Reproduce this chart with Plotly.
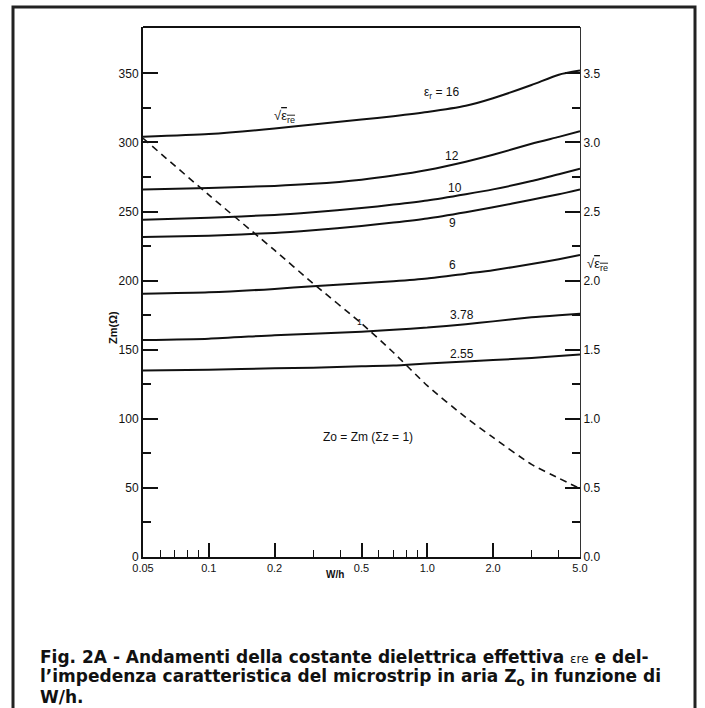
import math
import plotly.graph_objects as go

# ---- data ----
wh = [0.05, 0.1, 0.2, 0.3, 0.5, 0.7, 1.0, 1.5, 2.0, 3.0, 4.0, 5.0]

sqrt_ere_16 = [3.04, 3.06, 3.10, 3.13, 3.165, 3.19, 3.22, 3.265, 3.32, 3.415, 3.49, 3.52]
sqrt_ere_12 = [2.66, 2.67, 2.685, 2.70, 2.73, 2.76, 2.80, 2.86, 2.91, 2.99, 3.04, 3.08]
sqrt_ere_10 = [2.44, 2.455, 2.475, 2.495, 2.525, 2.55, 2.58, 2.625, 2.66, 2.72, 2.77, 2.81]
sqrt_ere_9 = [2.315, 2.325, 2.345, 2.365, 2.395, 2.42, 2.45, 2.495, 2.53, 2.585, 2.625, 2.66]
sqrt_ere_6 = [1.905, 1.915, 1.94, 1.96, 1.98, 1.995, 2.015, 2.05, 2.075, 2.12, 2.155, 2.185]
sqrt_ere_378 = [1.57, 1.58, 1.605, 1.615, 1.63, 1.645, 1.66, 1.685, 1.705, 1.735, 1.75, 1.76]
sqrt_ere_255 = [1.35, 1.355, 1.365, 1.37, 1.38, 1.385, 1.40, 1.415, 1.425, 1.44, 1.455, 1.465]

zm_air = [303, 262, 222, 198, 169, 148, 124, 101, 86.5, 67, 57, 49.5]

x_tickvals = [0.05, 0.1, 0.2, 0.5, 1.0, 2.0, 5.0]
x_ticktext = ["0.05", "0.1", "0.2", "0.5", "1.0", "2.0", "5.0"]
x_minor = [0.06, 0.07, 0.08, 0.09, 0.3, 0.4, 0.6, 0.7, 0.8, 0.9, 3.0, 4.0]

y_tickvals = [0, 50, 100, 150, 200, 250, 300, 350]
y_minor = [25, 75, 125, 175, 225, 275, 325]
y2_tickvals = [0.0, 0.5, 1.0, 1.5, 2.0, 2.5, 3.0, 3.5]
y2_minor = [0.25, 0.75, 1.25, 1.75, 2.25, 2.75, 3.25]

curves = [
    (sqrt_ere_16, "ε<sub>r</sub> = 16", 1.17, 3.36),
    (sqrt_ere_12, "12", 1.30, 2.90),
    (sqrt_ere_10, "10", 1.34, 2.67),
    (sqrt_ere_9, "9", 1.30, 2.42),
    (sqrt_ere_6, "6", 1.30, 2.11),
    (sqrt_ere_378, "3.78", 1.44, 1.75),
    (sqrt_ere_255, "2.55", 1.44, 1.47),
]

caption_lines = [
    "<b>Fig. 2A - Andamenti della costante dielettrica effettiva "
    "<span style='font-size:12px;font-weight:normal'>εre</span> e del-</b>",
    "<b>l’impedenza caratteristica del microstrip in aria Z<sub>o</sub> in funzione di</b>",
    "<b>W/h.</b>",
]

FONT = "Liberation Sans, Arial, sans-serif"
CAPFONT = "DejaVu Sans, Liberation Sans, sans-serif"
Y_MAX = 383.5

fig = go.Figure()
for vals, lab, lx, ly in curves:
    fig.add_trace(go.Scatter(x=wh, y=vals, mode="lines", yaxis="y2",
                             line=dict(color="#111", width=2, shape="spline", smoothing=0.6),
                             showlegend=False, hoverinfo="skip"))
fig.add_trace(go.Scatter(x=wh, y=zm_air, mode="lines", yaxis="y",
                         line=dict(color="#111", width=1.6, dash="7px,5px", shape="spline", smoothing=0.6),
                         showlegend=False, hoverinfo="skip"))

annotations = []
for vals, lab, lx, ly in curves:
    annotations.append(dict(x=math.log10(lx), y=ly, xref="x", yref="y2", text=lab, showarrow=False,
                            font=dict(family=FONT, size=12, color="#111")))
annotations += [
    dict(x=math.log10(0.221), y=3.19, xref="x", yref="y2",
         text="√<span style='text-decoration:overline'>ε<sub>re</sub></span>", showarrow=False,
         font=dict(family=FONT, size=13, color="#111")),
    dict(x=math.log10(0.49), y=170, xref="x", yref="y", text="1", showarrow=False,
         font=dict(family=FONT, size=9, color="#111")),
    dict(x=math.log10(0.535), y=87, xref="x", yref="y", text="Zo = Zm (Σz = 1)", showarrow=False,
         font=dict(family=FONT, size=12, color="#111")),
    dict(x=1.012, y=2.12, xref="paper", yref="y2", xanchor="left",
         text="√<span style='text-decoration:overline'>ε<sub>re</sub></span>", showarrow=False,
         font=dict(family=FONT, size=13, color="#111")),
    dict(x=-0.087, y=(557 - 327) / 530, xref="paper", yref="paper", text="<b>Zm(Ω)</b>",
         textangle=-90, showarrow=False, font=dict(family=FONT, size=11, color="#111")),
    dict(x=(335 - 143) / 437, y=(557 - 582) / 530, xref="paper", yref="paper", text="<b>W/h</b>",
         showarrow=False, font=dict(family=FONT, size=10, color="#111")),
]
for i, line in enumerate(caption_lines):
    annotations.append(dict(x=(38 - 143) / 437, y=(557 - (657 + 20 * i)) / 530,
                            xref="paper", yref="paper", xanchor="left", yanchor="middle",
                            align="left", showarrow=False, text=line,
                            font=dict(family=CAPFONT, size=17, color="#111")))

shapes = [
    dict(type="rect", xref="paper", yref="paper",
         x0=(13 - 143) / 437, x1=(695 - 143) / 437, y0=(557 - 720) / 530, y1=(557 - 7) / 530,
         line=dict(color="#222", width=3)),
    dict(type="line", xref="paper", yref="paper", x0=0, x1=1, y0=1, y1=1,
         line=dict(color="#111", width=2)),
]

fig.update_layout(
    width=705, height=708,
    margin=dict(l=143, r=125, t=27, b=151),
    paper_bgcolor="white", plot_bgcolor="white",
    showlegend=False,
    annotations=annotations, shapes=shapes,
    xaxis=dict(type="log", range=[math.log10(0.05), math.log10(5.0)],
               tickmode="array", tickvals=x_tickvals, ticktext=x_ticktext,
               ticks="inside", ticklen=14, tickwidth=1.5, tickcolor="#111",
               minor=dict(tickmode="array", tickvals=x_minor, ticks="inside", ticklen=7,
                          tickwidth=1.2, tickcolor="#111", showgrid=False),
               showgrid=False, zeroline=False, showline=True, linecolor="#111", linewidth=2,
               mirror=False, tickfont=dict(family=FONT, size=11, color="#111")),
    yaxis=dict(range=[0, Y_MAX], tickmode="array", tickvals=y_tickvals,
               ticks="inside", ticklen=15, tickwidth=1.5, tickcolor="#111",
               minor=dict(tickmode="array", tickvals=y_minor, ticks="inside", ticklen=8,
                          tickwidth=1.5, tickcolor="#111", showgrid=False),
               showgrid=False, zeroline=False, showline=True, linecolor="#111", linewidth=2,
               tickfont=dict(family=FONT, size=12, color="#111")),
    yaxis2=dict(range=[0, Y_MAX / 100], overlaying="y", side="right", tickmode="array",
                tickvals=y2_tickvals, ticktext=[f"{v:.1f}" for v in y2_tickvals],
                ticks="inside", ticklen=15, tickwidth=1.5, tickcolor="#111",
                minor=dict(tickmode="array", tickvals=y2_minor, ticks="inside", ticklen=8,
                           tickwidth=1.5, tickcolor="#111", showgrid=False),
                showgrid=False, zeroline=False, showline=True, linecolor="#333", linewidth=1,
                tickfont=dict(family=FONT, size=12, color="#111")),
)

fig.write_html("out.html", config={"displayModeBar": False},
               post_script="document.body.style.margin='0';document.body.style.overflow='hidden';")
